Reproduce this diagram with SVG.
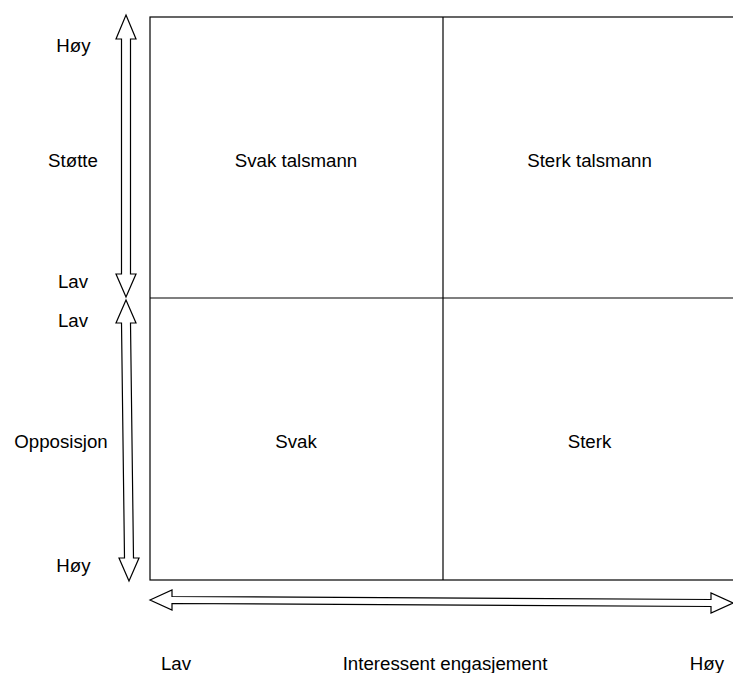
<svg xmlns="http://www.w3.org/2000/svg" width="733" height="673" viewBox="0 0 733 673">
<style>
.ln{fill:none;stroke:#000;stroke-width:1.2}
.ar{fill:#fff;stroke:#000;stroke-width:1.2;stroke-linejoin:miter}
text{font-family:"Liberation Sans",Arial,sans-serif;font-size:18.7px;fill:#000;text-anchor:middle;dominant-baseline:central}
</style>
<rect width="733" height="673" fill="#fff"/>
<g id="grid">
<rect class="ln" x="150" y="17" width="586" height="563"/>
<line class="ln" x1="443" y1="17" x2="443" y2="580"/>
<line class="ln" x1="150" y1="298" x2="736" y2="298"/>
</g>
<g id="connectors">
<polygon class="ar" points="126,15 136,39 130.5,39 130.5,274 136,274 126,297 116,274 121.5,274 121.5,39 116,39"/>
<polygon class="ar" points="126,300 136,323 130.5,323 133.5,558 139,558 129,581 119,558 124.5,558 121.5,323 116,323"/>
<polygon class="ar" points="150,600 172,590 172,596.5 711,599.5 711,593 733,603 711,613 711,606.5 172,603.5 172,610"/>
</g>
<g id="cell-svak-talsmann"><text x="296" y="160">Svak talsmann</text></g>
<g id="cell-sterk-talsmann"><text x="589.5" y="160">Sterk talsmann</text></g>
<g id="cell-svak"><text x="296" y="441">Svak</text></g>
<g id="cell-sterk"><text x="589.5" y="441">Sterk</text></g>
<g id="labels">
<text x="73.5" y="45">Høy</text>
<text x="73" y="160">Støtte</text>
<text x="73" y="281">Lav</text>
<text x="73" y="320">Lav</text>
<text x="61" y="441">Opposisjon</text>
<text x="73.5" y="565">Høy</text>
<text x="176" y="663">Lav</text>
<text x="445" y="663">Interessent engasjement</text>
<text x="707" y="663">Høy</text>
</g>
</svg>
